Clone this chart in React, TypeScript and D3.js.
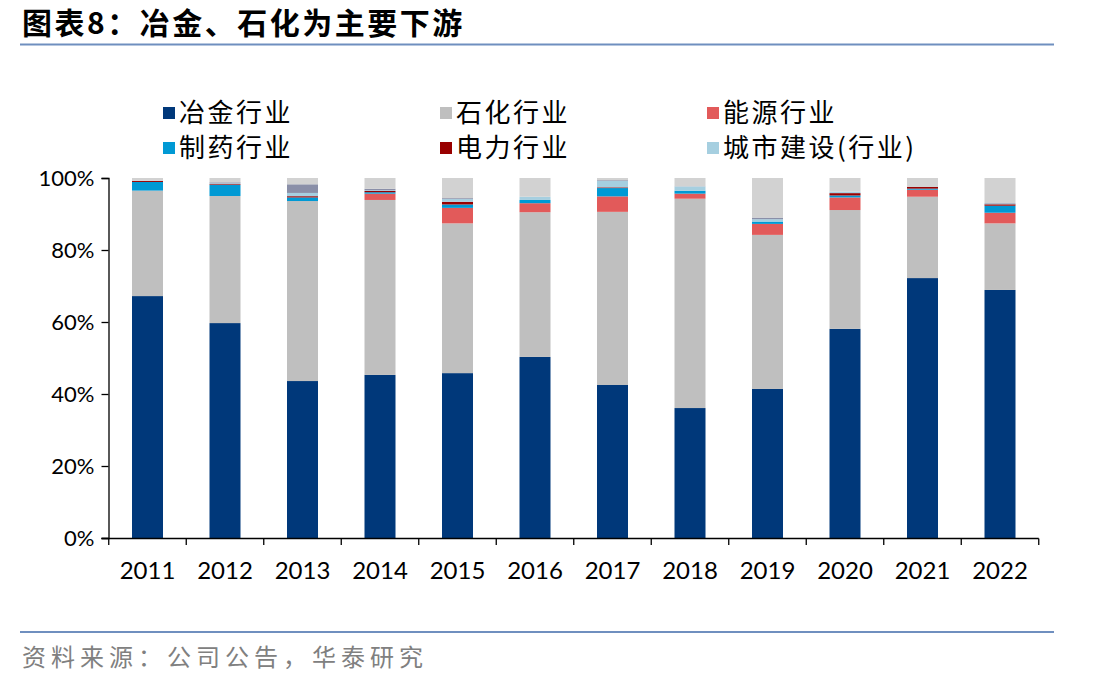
import React, { useEffect, useRef } from 'react';
import * as d3 from 'd3';

// 年份
const years = ['2011', '2012', '2013', '2014', '2015', '2016', '2017', '2018', '2019', '2020', '2021', '2022'];

// 各下游行业占比（%）
const metallurgy = [67.2, 59.7, 43.6, 45.3, 45.8, 50.3, 42.5, 36.1, 41.4, 58.1, 72.2, 68.9];
const petrochem = [29.3, 35.3, 50.0, 48.6, 41.6, 40.2, 48.1, 58.15, 42.8, 33.0, 22.6, 18.5];
const energy = [0, 0, 0, 1.75, 4.3, 2.5, 4.3, 1.4, 3.05, 3.5, 1.95, 2.95];
const pharma = [2.4, 3.1, 1.0, 0.4, 0.95, 0.9, 2.3, 0.8, 0.65, 0.55, 0.3, 1.95];
const power = [0.3, 0.2, 0.35, 0.35, 0.75, 0, 0.2, 0, 0, 0.65, 0.45, 0.4];
const urban = [0.1, 0.2, 0.9, 0.2, 0.75, 0.9, 1.8, 1.2, 0.65, 0.45, 0, 0.2];
const slate = [0, 0.3, 2.4, 0.4, 0.25, 0, 0.2, 0.05, 0.45, 0, 0, 0.15];
const others = [0.7, 1.2, 1.75, 3.0, 5.6, 5.2, 0.6, 2.3, 11.0, 3.75, 2.5, 6.95];

const seriesNames = ['冶金行业', '石化行业', '能源行业', '制药行业', '电力行业', '城市建设(行业)', '化工', '其他'];
const seriesValues = [metallurgy, petrochem, energy, pharma, power, urban, slate, others];
const seriesColors = ['#00387a', '#bfbfbf', '#e25a5a', '#0099d4', '#990000', '#a6cfe0', '#8a8fa8', '#d2d2d2'];
const legendCount = 6;

const yTicks = [0, 20, 40, 60, 80, 100];

const W = 1112;
const H = 687;

const App: React.FC = () => {
  const svgRef = useRef<SVGSVGElement | null>(null);

  useEffect(() => {
    const svg = d3.select(svgRef.current);
    svg.selectAll('*').remove();

    const cjk = '"Noto Sans CJK SC", sans-serif';

    // 标题
    svg.append('text')
      .attr('x', 22).attr('y', 34)
      .attr('font-family', cjk).attr('font-weight', 700).attr('font-size', 30)
      .attr('letter-spacing', 2.5)
      .attr('fill', '#000')
      .text('图表8：冶金、石化为主要下游');
    svg.append('line')
      .attr('x1', 20).attr('x2', 1054).attr('y1', 44.5).attr('y2', 44.5)
      .attr('stroke', '#6f8fbf').attr('stroke-width', 2);

    // 资料来源
    svg.append('line')
      .attr('x1', 20).attr('x2', 1054).attr('y1', 632).attr('y2', 632)
      .attr('stroke', '#6f8fbf').attr('stroke-width', 2);
    svg.append('text')
      .attr('x', 22).attr('y', 666)
      .attr('font-family', cjk).attr('font-size', 24)
      .attr('fill', '#808080')
      .attr('letter-spacing', 5)
      .text('资料来源：公司公告，华泰研究');

    const x = d3.scaleBand<string>().domain(years).range([108.75, 1038.75]).padding(0);
    const y = d3.scaleLinear().domain([0, 100]).range([538, 178]);
    const barW = x.bandwidth() * 0.4;

    const table = years.map((yr, i) => {
      const row: { [k: string]: number | string } = { year: yr };
      seriesNames.forEach((n, s) => { row[n] = seriesValues[s][i]; });
      return row;
    });
    const stacked = d3.stack<{ [k: string]: number | string }>()
      .keys(seriesNames)
      .value((d, key) => d[key] as number)(table);

    const g = svg.append('g');
    stacked.forEach((layer, s) => {
      g.append('g')
        .attr('fill', seriesColors[s])
        .selectAll('rect')
        .data(layer)
        .enter()
        .append('rect')
        .attr('x', (d) => (x(d.data.year as string) as number) + (x.bandwidth() - barW) / 2)
        .attr('width', barW)
        .attr('y', (d) => y(d[1]))
        .attr('height', (d) => Math.max(0, y(d[0]) - y(d[1])));
    });

    // y 轴
    const yAxis = svg.append('g')
      .attr('transform', 'translate(108.5,0)')
      .call(d3.axisLeft(y).tickValues(yTicks).tickSize(7).tickPadding(5).tickFormat((d) => `${d}%`));
    yAxis.select('.domain').attr('stroke', '#000').attr('stroke-width', 1.3);
    yAxis.selectAll('.tick line').attr('stroke', '#000').attr('stroke-width', 1.3);
    yAxis.selectAll('.tick text')
      .attr('font-family', 'Lato, sans-serif').attr('font-size', 22).attr('fill', '#000')
      .attr('dx', -2);

    // x 轴
    svg.append('line')
      .attr('x1', 101.5).attr('x2', 1038.75).attr('y1', 538.5).attr('y2', 538.5)
      .attr('stroke', '#000').attr('stroke-width', 1.3);
    const bounds = years.map((yr) => x(yr) as number).concat([1038.75]);
    svg.append('g').selectAll('line').data(bounds).enter().append('line')
      .attr('x1', (d) => d).attr('x2', (d) => d)
      .attr('y1', 538.5).attr('y2', 545)
      .attr('stroke', '#000').attr('stroke-width', 1.3);
    svg.append('g').selectAll('text').data(years).enter().append('text')
      .attr('x', (d) => (x(d) as number) + x.bandwidth() / 2)
      .attr('y', 579)
      .attr('text-anchor', 'middle')
      .attr('font-family', 'Lato, sans-serif').attr('font-size', 24).attr('fill', '#000')
      .text((d) => d);

    // 图例
    const legendCols = [163, 440, 707];
    const legendRows = [113, 148];
    const leg = svg.append('g').selectAll('g')
      .data(seriesNames.slice(0, legendCount))
      .enter().append('g')
      .attr('transform', (_, i) => `translate(${legendCols[i % 3]},${legendRows[Math.floor(i / 3)]})`);
    leg.append('rect')
      .attr('x', 0).attr('y', -6).attr('width', 12).attr('height', 12)
      .attr('fill', (_, i) => seriesColors[i]);
    leg.append('text')
      .attr('x', 16).attr('y', 9)
      .attr('font-family', cjk).attr('font-size', 26).attr('fill', '#000')
      .attr('letter-spacing', 2.5)
      .text((d) => d);
  }, []);

  return (
    <svg ref={svgRef} width={W} height={H} style={{ display: 'block', background: '#fff', margin: '-8px' }} />
  );
};

export default App;
